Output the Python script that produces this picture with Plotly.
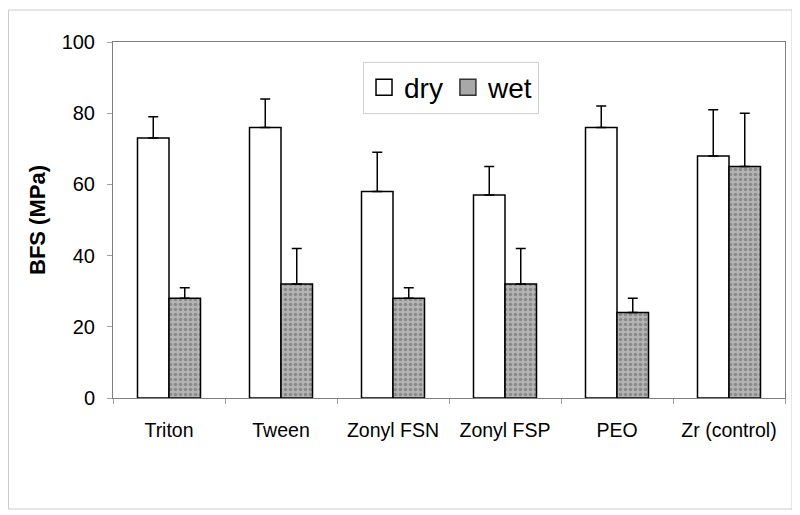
import plotly.graph_objects as go

categories = ["Triton", "Tween", "Zonyl FSN", "Zonyl FSP", "PEO", "Zr (control)"]
dry = [73, 76, 58, 57, 76, 68]
dry_err = [6, 8, 11, 8, 6, 13]
wet = [28, 32, 28, 32, 24, 65]
wet_err = [3, 10, 3, 10, 4, 15]
y_ticks = [0, 20, 40, 60, 80, 100]

FONT = "Liberation Sans, Arial, sans-serif"

# page body has an 8px default margin, so the figure is sized/offset to compensate
W, H = 792, 507
L, T, R, B = 105, 34, 15, 117
PW, PH = W - L - R, H - T - B

WET_BG = "#b4b4b4"

fig = go.Figure()
fig.add_trace(go.Bar(
    name="dry", x=categories, y=dry, showlegend=False,
    marker=dict(color="white", line=dict(color="black", width=1.5)),
    error_y=dict(type="data", array=dry_err, symmetric=False, arrayminus=[0]*6,
                 color="black", thickness=1.5, width=5),
))
fig.add_trace(go.Bar(
    name="wet", x=categories, y=wet, showlegend=False,
    marker=dict(color=WET_BG, line=dict(color="black", width=1.5),
                pattern=dict(shape=".", fgcolor="#606060", bgcolor=WET_BG,
                             size=5, solidity=0.4)),
    error_y=dict(type="data", array=wet_err, symmetric=False, arrayminus=[0]*6,
                 color="black", thickness=1.5, width=5),
))
# legend-only entries with larger square swatches
fig.add_trace(go.Scatter(name="dry", x=[None], y=[None], mode="markers",
                         marker=dict(symbol="square", size=20, color="white",
                                     line=dict(color="black", width=1.5))))
fig.add_trace(go.Scatter(name="wet", x=[None], y=[None], mode="markers",
                         marker=dict(symbol="square", size=20, color="#a8a8a8",
                                     line=dict(color="#333333", width=1.5))))

fig.update_layout(
    width=W, height=H,
    margin=dict(l=L, r=R, t=T, b=B, autoexpand=False),
    paper_bgcolor="white", plot_bgcolor="white",
    barmode="group", bargap=0.4375, bargroupgap=0,
    font=dict(family=FONT, color="black", size=19),
    showlegend=True,
    legend=dict(orientation="h", x=0.503, xanchor="center", y=0.945, yanchor="top",
                bordercolor="#d0d0d0", borderwidth=1, bgcolor="white",
                itemsizing="trace",
                font=dict(size=28, family=FONT), itemwidth=30),
    xaxis=dict(showline=True, linecolor="#808080", linewidth=1, mirror=True,
               ticks="outside", tickson="boundaries", ticklen=5, tickcolor="#a0a0a0",
               ticklabelstandoff=15, tickfont=dict(size=19.5), showgrid=False),
    yaxis=dict(range=[0, 100], tickvals=y_ticks, showline=True, linecolor="#808080",
               linewidth=1, mirror=True, ticks="outside", ticklen=5, tickcolor="#a0a0a0",
               ticklabelstandoff=8, tickfont=dict(size=20), showgrid=False,
               title=dict(text="<b>BFS (MPa)</b>", font=dict(size=22), standoff=9)),
    shapes=[dict(type="rect", xref="paper", yref="paper",
                 x0=(0.5 - L)/PW, x1=(784 - L)/PW, y0=(H - B - 501)/PH, y1=(H - B - 2)/PH,
                 line=dict(color="#cccccc", width=1), layer="below")],
)

fig.write_html("out.html")
